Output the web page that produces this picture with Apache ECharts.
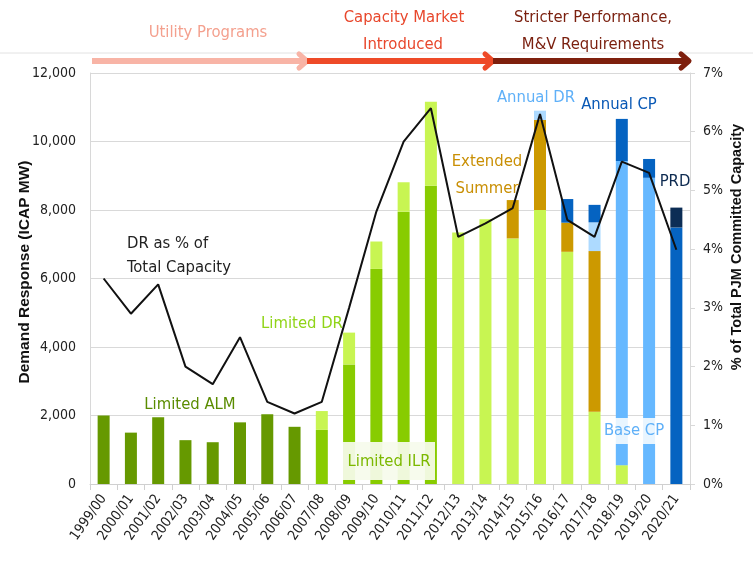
<!DOCTYPE html>
<html><head><meta charset="utf-8">
<script src="https://cdn.jsdelivr.net/npm/echarts@6/dist/echarts.min.js"></script>
<style>html,body{margin:0;padding:0;background:#fff}#c{width:753px;height:566px}</style>
</head><body><div id="c"></div>
<script>
var years = ['1999/00','2000/01','2001/02','2002/03','2003/04','2004/05','2005/06','2006/07','2007/08','2008/09','2009/10','2010/11','2011/12','2012/13','2013/14','2014/15','2015/16','2016/17','2017/18','2018/19','2019/20','2020/21'];
// segment heights (MW)
var limitedALM  = [2000,1500,1950,1280,1220,1800,2040,1670,null,null,null,null,null,null,null,null,null,null,null,null,null,null];
var limitedILR  = [null,null,null,null,null,null,null,null,1580,3490,6280,7950,8710,null,null,null,null,null,null,null,null,null];
var limitedDR   = [null,null,null,null,null,null,null,null,550,930,800,860,2450,7340,7730,7170,8000,6780,2110,550,null,null];
var extSummer   = [null,null,null,null,null,null,null,null,null,null,null,null,null,null,null,1120,2630,850,4690,null,null,null];
var annualDR    = [null,null,null,null,null,null,null,null,null,null,null,null,null,null,null,null,270,null,840,null,null,null];
var baseCP      = [null,null,null,null,null,null,null,null,null,null,null,null,null,null,null,null,null,null,null,8880,8940,null];
var annualCP    = [null,null,null,null,null,null,null,null,null,null,null,null,null,null,null,null,null,690,510,1230,550,7490];
var prd         = [null,null,null,null,null,null,null,null,null,null,null,null,null,null,null,null,null,null,null,null,null,580];
// DR as % of total committed capacity
var drPct = [3.5,2.9,3.4,2.0,1.7,2.5,1.4,1.2,1.4,3.0,4.64,5.83,6.4,4.21,4.44,4.7,6.3,4.5,4.21,5.49,5.3,3.99];
var leftTicks = {min:0,max:12000,interval:2000};
var rightTicks = {min:0,max:7,interval:1};

var FONT = "'Liberation Sans Narrow','DejaVu Sans Condensed',sans-serif";
var chart = echarts.init(document.getElementById('c'));
function bar(name, data, color){
  return {name:name,type:'bar',stack:'dr',data:data,barWidth:12,itemStyle:{color:color},animation:false};
}
function txt(x,y,text,color,size,extra){
  var s = {text:text,fill:color,font:(size||16)+'px '+FONT,textAlign:'center',textVerticalAlign:'middle'};
  if(extra) for(var k in extra) s[k]=extra[k];
  return {type:'text',x:x,y:y,z:100,style:s};
}
function arrow(x1,x2,y,color){
  return [
    {type:'line',z:50,shape:{x1:x1,y1:y,x2:x2-3,y2:y},style:{stroke:color,lineWidth:6}},
    {type:'polyline',z:50,shape:{points:[[x2-8,y-7],[x2,y],[x2-8,y+7]]},style:{stroke:color,lineWidth:5,fill:null,lineCap:'round',lineJoin:'round'}}
  ];
}
var graphics = [
  {type:'line',z:1,shape:{x1:0,y1:53,x2:753,y2:53},style:{stroke:'#e2e2e2',lineWidth:1}}
].concat(arrow(92,307,61,'#f8b4a6'), arrow(307,493,61,'#ee4a28'), arrow(493,689,61,'#7e1f0d')).concat([
  txt(208,33,'Utility Programs','#f4a08e',16.5),
  txt(404,18,'Capacity Market','#e8472c',16.5),
  txt(403,45,'Introduced','#e8472c',16.5),
  txt(593,18,'Stricter Performance,','#7a1f0e',16.5),
  txt(593,45,'M&V Requirements','#7a1f0e',16.5),
  txt(127,244,'DR as % of','#222',16.5,{textAlign:'left'}),
  txt(127,268,'Total Capacity','#222',16.5,{textAlign:'left'}),
  txt(190,405,'Limited ALM','#5a8c00',16.5),
  txt(302,324,'Limited DR','#90d418',16.5),
  {type:'rect',z:90,shape:{x:343,y:442,width:92,height:38},style:{fill:'rgba(246,251,236,0.93)'}},
  txt(389,462,'Limited ILR','#7cb800',16.5),
  txt(487,162,'Extended','#c98f04',16.5),
  txt(487,189,'Summer','#c98f04',16.5),
  txt(536,98,'Annual DR','#5fb0f8',16.5),
  txt(619,105,'Annual CP','#0858b5',16.5),
  txt(675,182,'PRD','#0d2a50',16.5),
  {type:'rect',z:90,shape:{x:604,y:418,width:58,height:26},style:{fill:'rgba(255,255,255,0.85)'}},
  txt(634,431,'Base CP','#5fb0f8',16.5),
  {type:'text',z:100,x:25,y:272,rotation:Math.PI/2,style:{text:'Demand Response (ICAP MW)',fill:'#111',font:"bold 15.5px 'Liberation Sans',sans-serif",textAlign:'center',textVerticalAlign:'middle'}},
  {type:'text',z:100,x:737,y:247,rotation:Math.PI/2,style:{text:'% of Total PJM Committed Capacity',fill:'#111',font:"bold 14.5px 'Liberation Sans',sans-serif",textAlign:'center',textVerticalAlign:'middle'}}
]);

chart.setOption({
  animation:false,
  textStyle:{fontFamily:FONT},
  grid:{left:90,right:63,top:73,bottom:82},
  xAxis:{type:'category',data:years,boundaryGap:true,
    axisLine:{lineStyle:{color:'#d0d0d0'}},
    axisTick:{show:true,interval:0,length:6,lineStyle:{color:'#d0d0d0'}},
    axisLabel:{interval:0,rotate:55,fontSize:14,color:'#222',margin:12,fontFamily:FONT}},
  yAxis:[
    {type:'value',min:leftTicks.min,max:leftTicks.max,interval:leftTicks.interval,
     axisLine:{show:true,lineStyle:{color:'#d8d8d8'}},axisTick:{show:false},
     axisLabel:{fontSize:14,color:'#222',margin:14,formatter:function(v){return v.toLocaleString('en-US');}},
     splitLine:{lineStyle:{color:'#d9d9d9'}}},
    {type:'value',min:rightTicks.min,max:rightTicks.max,interval:rightTicks.interval,
     axisLine:{show:true,lineStyle:{color:'#d8d8d8'}},axisTick:{show:true,length:5,lineStyle:{color:'#d8d8d8'}},
     axisLabel:{fontSize:14,color:'#222',margin:13,formatter:'{value}%'},
     splitLine:{show:false}}
  ],
  series:[
    bar('Limited ALM',limitedALM,'#669900'),
    bar('Limited ILR',limitedILR,'#88cc00'),
    bar('Limited DR',limitedDR,'#c8f552'),
    bar('Extended Summer',extSummer,'#cc9900'),
    bar('Annual DR',annualDR,'#addaff'),
    bar('Base CP',baseCP,'#66b8ff'),
    bar('Annual CP',annualCP,'#0563c1'),
    bar('PRD',prd,'#0c2d55'),
    {name:'DR %',type:'line',yAxisIndex:1,data:drPct,symbol:'none',z:10,
     lineStyle:{color:'#111',width:2},itemStyle:{color:'#111'}}
  ],
  graphic:graphics
});
</script></body></html>
